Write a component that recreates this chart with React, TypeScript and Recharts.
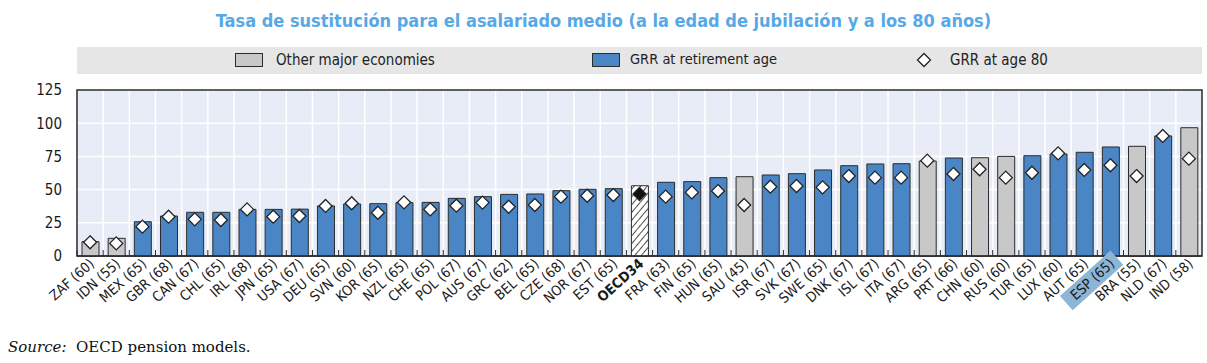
import React from 'react';
import { ComposedChart, Bar, Scatter, XAxis, YAxis, CartesianGrid, Cell, ReferenceArea } from 'recharts';

const countries = ['ZAF','IDN','MEX','GBR','CAN','CHL','IRL','JPN','USA','DEU','SVN','KOR','NZL','CHE','POL','AUS','GRC','BEL','CZE','NOR','EST','OECD34','FRA','FIN','HUN','SAU','ISR','SVK','SWE','DNK','ISL','ITA','ARG','PRT','CHN','RUS','TUR','LUX','AUT','ESP','BRA','NLD','IND'];
const retirementAges = [60,55,65,68,67,65,68,65,67,65,60,65,65,65,67,67,62,65,68,67,65,null,63,65,65,45,67,67,65,67,67,67,65,66,60,60,65,60,65,65,55,67,58];
const grrRetirement = [10.8,13.3,25.8,30.1,32.9,32.9,35.1,35.1,35.3,37.7,39.2,39.4,40.2,40.4,43.4,44.7,46.4,46.7,49.2,50.2,50.7,52.9,55.5,56.0,59.0,59.7,61.0,62.0,64.8,68.0,69.3,69.5,71.5,73.8,74.0,75.0,75.5,76.8,78.1,82.1,82.6,90.4,96.6];
const grrAge80 = [10.3,9.5,22.1,29.6,27.6,27.1,35.1,29.6,30.1,37.7,39.7,32.6,40.4,35.1,37.9,40.2,37.1,38.4,44.7,45.4,45.9,46.7,44.7,47.9,48.9,38.4,52.2,52.7,51.7,60.2,59.0,59.0,71.8,61.7,65.3,59.0,62.7,77.3,64.8,68.3,60.2,90.4,73.3];
const otherMajor = ['ZAF','IDN','SAU','ARG','CHN','RUS','BRA','IND'];
const averageLabel = 'OECD34';
const highlighted = 'ESP';
const yTicks = [0, 25, 50, 75, 100, 125];

const titleText = 'Tasa de sustitución para el asalariado medio (a la edad de jubilación y a los 80 años)';
const legendLabels = ['Other major economies', 'GRR at retirement age', 'GRR at age 80'];

const data = countries.map((c, i) => ({
  code: c,
  label: retirementAges[i] == null ? c : `${c} (${retirementAges[i]})`,
  grr: grrRetirement[i],
  age80: grrAge80[i],
}));

const W = 1207;
const H = 363;
const PLOT_LEFT = 77;
const PLOT_RIGHT = 1202;
const PLOT_TOP = 90;
const PLOT_BOTTOM = 256;
const XAXIS_H = 60;
const BAND = (PLOT_RIGHT - PLOT_LEFT) / countries.length;

const BLUE = '#4a86c6';
const GREY = '#c8c8c8';
const STROKE = '#2b2b2b';
const NARROW = "'Liberation Sans Narrow', 'Arial Narrow', 'DejaVu Sans Condensed', sans-serif";

function XTick(props: any) {
  const { x, y, payload } = props;
  const label: string = payload.value;
  const isAvg = label === averageLabel;
  const isHi = label.startsWith(highlighted);
  const tx = x + 5;
  const ty = y + 9;
  return (
    <g>
      <line x1={x - BAND / 2} x2={x - BAND / 2} y1={y - 6} y2={y} stroke={STROKE} strokeWidth={1} />
      <g transform={`translate(${tx},${ty}) rotate(-42)`}>
        {isHi && <rect x={-62} y={-14} width={68} height={19} fill="#8db5d5" />}
        <text x={0} y={0} textAnchor="end" fontFamily={NARROW} fontSize={14} fontWeight={isAvg ? 700 : 400} fill="#1a1a1a">
          {label}
        </text>
      </g>
    </g>
  );
}

function Diamond(props: any) {
  const { cx, cy, payload } = props;
  if (cx == null || cy == null) return null;
  const r = 6.5;
  const isAvg = payload && payload.code === averageLabel;
  return (
    <path
      d={`M${cx},${cy - r} L${cx + r},${cy} L${cx},${cy + r} L${cx - r},${cy} Z`}
      fill={isAvg ? '#111' : '#fff'}
      stroke="#222"
      strokeWidth={1.3}
    />
  );
}

export default function App() {
  return (
    <div style={{ position: 'absolute', left: 0, top: 0, width: W, height: H, background: '#fff', overflow: 'hidden' }}>
      <svg width={0} height={0} style={{ position: 'absolute' }}>
        <defs>
          <pattern id="hatch" patternUnits="userSpaceOnUse" width={5} height={5} patternTransform="rotate(40)">
            <rect width={5} height={5} fill="#fff" />
            <line x1={0} y1={0} x2={0} y2={5} stroke="#222" strokeWidth={1.6} />
          </pattern>
        </defs>
      </svg>
      <div style={{ position: 'absolute', left: 0, width: W, top: 10, textAlign: 'center', fontFamily: NARROW, fontWeight: 700, fontSize: 18, color: '#57a8e6', whiteSpace: 'nowrap' }}>
        {titleText}
      </div>
      <div style={{ position: 'absolute', left: PLOT_LEFT, top: 47, width: PLOT_RIGHT - PLOT_LEFT, height: 27, background: '#e6e6e6', fontFamily: NARROW, fontSize: 15, color: '#222' }}>
        <div style={{ position: 'absolute', left: 235 - PLOT_LEFT, top: 6, width: 26, height: 12, background: GREY, border: `1px solid ${STROKE}` }} />
        <div style={{ position: 'absolute', left: 276 - PLOT_LEFT, top: 4, whiteSpace: 'nowrap' }}>{legendLabels[0]}</div>
        <div style={{ position: 'absolute', left: 592 - PLOT_LEFT, top: 6, width: 26, height: 12, background: BLUE, border: `1px solid ${STROKE}` }} />
        <div style={{ position: 'absolute', left: 630 - PLOT_LEFT, top: 4, whiteSpace: 'nowrap', fontSize: 14.5 }}>{legendLabels[1]}</div>
        <svg style={{ position: 'absolute', left: 916 - PLOT_LEFT, top: 5 }} width={16} height={16}>
          <path d="M8,1.5 L14.5,8 L8,14.5 L1.5,8 Z" fill="#fff" stroke="#222" strokeWidth={1.3} />
        </svg>
        <div style={{ position: 'absolute', left: 950 - PLOT_LEFT, top: 4, whiteSpace: 'nowrap' }}>{legendLabels[2]}</div>
      </div>
      <div style={{ position: 'absolute', left: 0, top: 0 }}>
        <ComposedChart
          width={W}
          height={H}
          data={data}
          margin={{ top: PLOT_TOP, right: W - PLOT_RIGHT, bottom: H - PLOT_BOTTOM - XAXIS_H, left: 0 }}
        >
          <CartesianGrid
            fill="#e8ecf6"
            stroke="#ffffff"
            strokeWidth={1.5}
            verticalCoordinatesGenerator={({ offset }: any) =>
              countries.slice(1).map((_, i) => offset.left + ((i + 1) * offset.width) / countries.length)
            }
          />
          <XAxis
            dataKey="label"
            interval={0}
            height={XAXIS_H}
            tickLine={false}
            tickSize={0}
            tickMargin={0}
            axisLine={{ stroke: STROKE, strokeWidth: 1.5 }}
            tick={<XTick />}
          />
          <YAxis
            width={PLOT_LEFT}
            domain={[0, 125]}
            ticks={yTicks}
            interval={0}
            tickLine={false}
            tickSize={0}
            tickMargin={15}
            axisLine={false}
            tick={{ fontFamily: NARROW, fontSize: 15, fill: '#1a1a1a' }}
          />
          <ReferenceArea y1={0} y2={125} fill="none" stroke={STROKE} strokeWidth={1.5} ifOverflow="visible" />
          <Bar dataKey="grr" barSize={17} stroke={STROKE} strokeWidth={1} isAnimationActive={false}>
            {data.map((d) => (
              <Cell
                key={d.code}
                fill={d.code === averageLabel ? 'url(#hatch)' : otherMajor.includes(d.code) ? GREY : BLUE}
              />
            ))}
          </Bar>
          <Scatter dataKey="age80" shape={<Diamond />} isAnimationActive={false} />
        </ComposedChart>
      </div>
      <div style={{ position: 'absolute', left: 8, top: 338, fontFamily: "'DejaVu Serif', serif", fontSize: 15, color: '#111', whiteSpace: 'nowrap' }}>
        <i>Source:</i>&nbsp; OECD pension models.
      </div>
    </div>
  );
}
